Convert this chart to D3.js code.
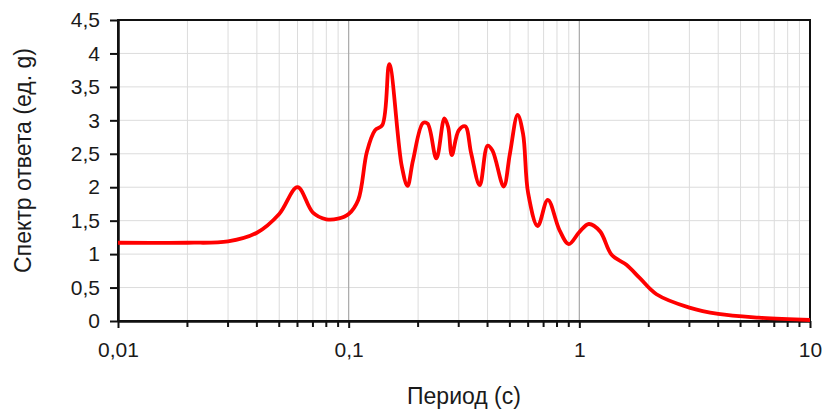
<!DOCTYPE html>
<html>
<head>
<meta charset="utf-8">
<script src="https://cdn.jsdelivr.net/npm/d3@7.9.0/dist/d3.min.js"></script>
<style>
  body { margin: 0; background: #fff; }
  text { font-family: "Liberation Sans", Arial, sans-serif; fill: #1a1a1a; }
</style>
</head>
<body>
<svg id="chart" width="827" height="414"></svg>
<script>
// period (s) and spectral acceleration (g)
const periods = [0.01, 0.02, 0.03, 0.04, 0.05, 0.06, 0.07, 0.08, 0.09, 0.1,
  0.11, 0.12, 0.13, 0.14, 0.15, 0.17, 0.18, 0.19, 0.21, 0.22,
  0.24, 0.26, 0.27, 0.28, 0.3, 0.32, 0.34, 0.37, 0.4, 0.42,
  0.47, 0.5, 0.54, 0.57, 0.6, 0.66, 0.73, 0.82, 0.9, 1.0,
  1.1, 1.23, 1.38, 1.6, 1.83, 2.16, 3.0, 4.0, 6.0, 10];
const spectrum = [1.17, 1.17, 1.19, 1.32, 1.6, 2.0, 1.62, 1.52, 1.53, 1.6,
  1.81, 2.53, 2.85, 2.93, 3.84, 2.31, 2.02, 2.4, 2.96, 2.95,
  2.43, 3.03, 2.9, 2.48, 2.85, 2.91, 2.5, 2.03, 2.62, 2.55,
  2.01, 2.5, 3.08, 2.8, 1.91, 1.42, 1.81, 1.36, 1.15, 1.33,
  1.45, 1.34, 0.99, 0.84, 0.64, 0.40, 0.2, 0.105, 0.05, 0.015];

const xMajor = [0.01, 0.1, 1, 10];
const xMajorLabels = ['0,01', '0,1', '1', '10'];
const yTicks = [0, 0.5, 1, 1.5, 2, 2.5, 3, 3.5, 4, 4.5];

const xTitle = 'Период (с)';
const yTitle = 'Спектр ответа (ед. g)';

const margin = { top: 20, right: 17, bottom: 93, left: 118 };
const width = 827, height = 414;

const svg = d3.select('#chart');

const x = d3.scaleLog().domain([0.01, 10]).range([margin.left, width - margin.right]);
const y = d3.scaleLinear().domain([0, 4.5]).range([height - margin.bottom, margin.top]);

// minor positions 2..9 within each decade
let xMinor = [];
xMajor.slice(0, -1).forEach(d => {
  for (let k = 2; k <= 9; k++) xMinor.push(d * k);
});

const fmt = d => d.toString().replace('.', ',');

// grid
svg.append('g')
  .selectAll('line')
  .data(yTicks.slice(1))
  .join('line')
  .attr('x1', margin.left).attr('x2', width - margin.right)
  .attr('y1', d => y(d)).attr('y2', d => y(d))
  .attr('stroke', '#dcdcdc').attr('stroke-width', 1);

svg.append('g')
  .selectAll('line')
  .data(xMinor)
  .join('line')
  .attr('x1', d => x(d)).attr('x2', d => x(d))
  .attr('y1', margin.top).attr('y2', height - margin.bottom)
  .attr('stroke', '#dcdcdc').attr('stroke-width', 1);

svg.append('g')
  .selectAll('line')
  .data(xMajor.slice(1, -1))
  .join('line')
  .attr('x1', d => x(d)).attr('x2', d => x(d))
  .attr('y1', margin.top).attr('y2', height - margin.bottom)
  .attr('stroke', '#a8a8a8').attr('stroke-width', 1.2);

// frame
svg.append('rect')
  .attr('x', margin.left).attr('y', margin.top)
  .attr('width', width - margin.left - margin.right)
  .attr('height', height - margin.top - margin.bottom)
  .attr('fill', 'none').attr('stroke', '#111').attr('stroke-width', 2);

// axes
const xAxis = svg.append('g')
  .attr('transform', `translate(0,${height - margin.bottom})`)
  .call(d3.axisBottom(x).tickValues(xMajor).tickFormat((d, i) => xMajorLabels[i]).tickSizeInner(7).tickSizeOuter(0).tickPadding(14));
xAxis.select('.domain').attr('stroke', '#111').attr('stroke-width', 2.5);
xAxis.selectAll('.tick line').attr('stroke', '#111').attr('stroke-width', 2);
xAxis.selectAll('.tick text').attr('font-size', 21).attr('fill', '#1a1a1a');

svg.append('g')
  .selectAll('line')
  .data(xMinor)
  .join('line')
  .attr('x1', d => x(d)).attr('x2', d => x(d))
  .attr('y1', height - margin.bottom).attr('y2', height - margin.bottom + 6)
  .attr('stroke', '#111').attr('stroke-width', 2);

const yAxis = svg.append('g')
  .attr('transform', `translate(${margin.left},0)`)
  .call(d3.axisLeft(y).tickValues(yTicks).tickFormat(fmt).tickSizeInner(8).tickSizeOuter(0).tickPadding(10));
yAxis.select('.domain').attr('stroke', '#111').attr('stroke-width', 2.5);
yAxis.selectAll('.tick line').attr('stroke', '#111').attr('stroke-width', 2);
yAxis.selectAll('.tick text').attr('font-size', 21).attr('fill', '#1a1a1a');

// titles
svg.append('text')
  .attr('x', (margin.left + width - margin.right) / 2)
  .attr('y', 404)
  .attr('text-anchor', 'middle')
  .attr('font-size', 23)
  .text(xTitle);

svg.append('text')
  .attr('transform', `translate(31,${(margin.top + height - margin.bottom) / 2 - 10}) rotate(-90)`)
  .attr('text-anchor', 'middle')
  .attr('font-size', 23)
  .text(yTitle);

// spectrum line
const data = periods.map((p, i) => ({ p, v: spectrum[i] }));
const line = d3.line()
  .x(d => x(d.p))
  .y(d => y(d.v))
  .curve(d3.curveCatmullRom.alpha(0.5));

svg.append('path')
  .datum(data)
  .attr('d', line)
  .attr('fill', 'none')
  .attr('stroke', '#ff0000')
  .attr('stroke-width', 3.8)
  .attr('stroke-linejoin', 'round');
</script>
</body>
</html>
